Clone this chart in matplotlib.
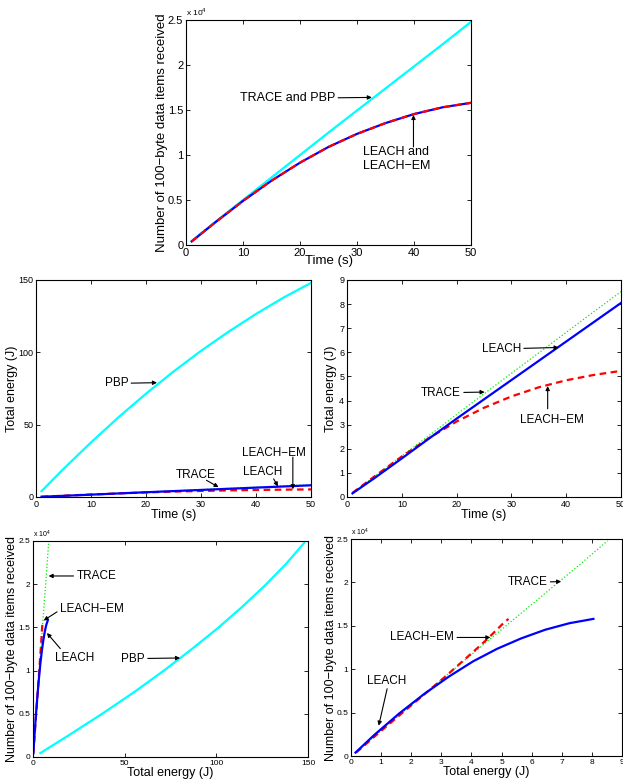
import numpy as np
import matplotlib.pyplot as plt

plt.rcParams['font.family'] = ['Liberation Sans', 'DejaVu Sans']
plt.rcParams['mathtext.fontset'] = 'custom'
plt.rcParams['mathtext.rm'] = 'Liberation Sans'

# simulation time (s)
t = [1, 5, 10, 15, 20, 25, 30, 35, 40, 45, 50]

# data items received (100-byte items)
items_trace_pbp = [450, 2500, 5000, 7500, 10000, 12500, 14950, 17400, 19850, 22300, 24800]
items_leach = [400, 2450, 4900, 7150, 9150, 10900, 12350, 13550, 14550, 15300, 15800]

# total energy (J)
energy_pbp = [4.0, 19.4, 37.7, 55.1, 71.4, 86.7, 101, 114.2, 126.5, 137.8, 148]
energy_trace = [0.17, 0.85, 1.7, 2.55, 3.42, 4.28, 5.13, 5.98, 6.83, 7.68, 8.52]
energy_leach = [0.15, 0.78, 1.6, 2.43, 3.25, 4.05, 4.85, 5.65, 6.45, 7.25, 8.05]
energy_leach_em = [0.17, 0.85, 1.68, 2.45, 3.13, 3.7, 4.17, 4.55, 4.84, 5.06, 5.23]

CYAN, BLUE, RED, GREEN = '#00ffff', '#0000ff', '#ff0000', '#00ee00'
items_ticks = [0, 5000, 10000, 15000, 20000, 25000]
items_labels = ['0', '0.5', '1', '1.5', '2', '2.5']

fig = plt.figure(figsize=(6.23, 7.82), dpi=100)

ARROW = dict(arrowstyle='-|>', color='black', lw=0.8, mutation_scale=6,
             shrinkA=0, shrinkB=0)


def style(ax, tick_fs):
    ax.tick_params(direction='in', top=True, right=True, labelsize=tick_fs,
                   length=3, width=0.6, pad=2)
    for s in ax.spines.values():
        s.set_linewidth(0.8)


def note(ax, text, xy, xytext, fs=8.5, ha='right'):
    ax.annotate(text, xy=xy, xytext=xytext, fontsize=fs, ha=ha, va='center',
                arrowprops=ARROW)


def note_apart(ax, text, textpos, tail, head, fs=8.5):
    # label placed on its own, arrow drawn from tail to head
    ax.text(textpos[0], textpos[1], text, fontsize=fs, ha='left', va='center')
    ax.annotate('', xy=head, xytext=tail, arrowprops=ARROW)


# ---- top: items vs time
ax = fig.add_axes([0.2986, 0.6867, 0.4575, 0.2877])
ax.plot(t, items_trace_pbp, ':', color=GREEN, lw=0.9)
ax.plot(t, items_trace_pbp, '-', color=CYAN, lw=1.6)
ax.plot(t, items_leach, '-', color=BLUE, lw=1.6)
ax.plot(t, items_leach, '--', color=RED, lw=1.6, dashes=(3, 2))
ax.set_xlim(0, 50)
ax.set_ylim(0, 25000)
ax.set_yticks(items_ticks)
ax.set_yticklabels(items_labels)
style(ax, 8)
ax.text(0, 1.008, r'x 10$^4$', transform=ax.transAxes, fontsize=6, va='bottom')
ax.set_xlabel('Time (s)', fontsize=9.5, labelpad=-2)
ax.set_ylabel('Number of 100\u2212byte data items received', fontsize=9.5)
ax.yaxis.set_label_coords(-0.063, 0.5)
note(ax, 'TRACE and PBP', (32.6, 16400), (26.2, 16300), fs=9)
note_apart(ax, 'LEACH and\nLEACH\u2212EM', (31.0, 9600), (39.9, 10900), (39.9, 14450), fs=9)

# ---- middle left: energy vs time
ax = fig.add_axes([0.0578, 0.3645, 0.4414, 0.2775])
ax.plot(t, energy_pbp, '-', color=CYAN, lw=1.6)
ax.plot(t, energy_trace, ':', color=GREEN, lw=0.9)
ax.plot(t, energy_leach_em, '--', color=RED, lw=1.6, dashes=(3, 2))
ax.plot(t, energy_leach, '-', color=BLUE, lw=1.6)
ax.set_xlim(0, 50)
ax.set_ylim(0, 150)
ax.set_yticks([0, 50, 100, 150])
style(ax, 6.5)
ax.set_xlabel('Time (s)', fontsize=9, labelpad=0)
ax.set_ylabel('Total energy (J)', fontsize=9)
ax.yaxis.set_label_coords(-0.065, 0.5)
note(ax, 'PBP', (22.0, 79), (16.8, 78.5))
note_apart(ax, 'TRACE', (25.5, 15), (31.0, 11.5), (33.2, 6.8))
note_apart(ax, 'LEACH', (37.7, 17.3), (43.2, 12.5), (44, 7.3))
note_apart(ax, 'LEACH\u2212EM', (37.4, 30.5), (46.7, 27.5), (46.7, 5.3))

# ---- middle right: energy vs time (zoom)
ax = fig.add_axes([0.557, 0.3645, 0.44, 0.2775])
ax.plot(t, energy_trace, ':', color=GREEN, lw=0.9)
ax.plot(t, energy_leach_em, '--', color=RED, lw=1.6, dashes=(3, 2))
ax.plot(t, energy_leach, '-', color=BLUE, lw=1.6)
ax.set_xlim(0, 50)
ax.set_ylim(0, 9)
ax.set_yticks(range(10))
style(ax, 6.5)
ax.set_xlabel('Time (s)', fontsize=9, labelpad=0)
ax.set_ylabel('Total energy (J)', fontsize=9)
ax.yaxis.set_label_coords(-0.036, 0.5)
note(ax, 'LEACH', (38.6, 6.2), (31.75, 6.14))
note(ax, 'TRACE', (25.1, 4.35), (20.8, 4.32))
note_apart(ax, 'LEACH\u2212EM', (31.6, 3.18), (36.6, 3.66), (36.6, 4.6))

# ---- bottom left: items vs energy
ax = fig.add_axes([0.053, 0.032, 0.4414, 0.2762])
ax.plot(energy_trace, items_trace_pbp, ':', color=GREEN, lw=0.9)
ax.plot(energy_pbp, items_trace_pbp, '-', color=CYAN, lw=1.6)
ax.plot(energy_leach_em, items_leach, '--', color=RED, lw=1.6, dashes=(3, 2))
ax.plot(energy_leach, items_leach, '-', color=BLUE, lw=1.6)
ax.set_xlim(0, 150)
ax.set_ylim(0, 25000)
ax.set_xticks([0, 50, 100, 150])
ax.set_yticks(items_ticks)
ax.set_yticklabels(items_labels)
style(ax, 6)
ax.text(0, 1.003, r'x 10$^4$', transform=ax.transAxes, fontsize=5, va='bottom')
ax.set_xlabel('Total energy (J)', fontsize=9, labelpad=0)
ax.set_ylabel('Number of 100\u2212byte data items received', fontsize=9)
ax.yaxis.set_label_coords(-0.055, 0.5)
note(ax, 'TRACE', (8.5, 20950), (23.6, 20950), ha='left')
note_apart(ax, 'LEACH\u2212EM', (14.9, 17170), (13.1, 16800), (5.8, 15800))
note_apart(ax, 'LEACH', (12.2, 11460), (14.9, 12540), (7.6, 14350))
note(ax, 'PBP', (80.2, 11460), (61.1, 11380))

# ---- bottom right: items vs energy (zoom)
ax = fig.add_axes([0.5634, 0.0332, 0.435, 0.2775])
ax.plot(energy_trace, items_trace_pbp, ':', color=GREEN, lw=0.9)
ax.plot(energy_leach_em, items_leach, '--', color=RED, lw=1.6, dashes=(3, 2))
ax.plot(energy_leach, items_leach, '-', color=BLUE, lw=1.6)
ax.set_xlim(0, 9)
ax.set_ylim(0, 25000)
ax.set_xticks(range(10))
ax.set_yticks(items_ticks)
ax.set_yticklabels(items_labels)
style(ax, 6)
ax.text(0, 1.003, r'x 10$^4$', transform=ax.transAxes, fontsize=5, va='bottom')
ax.set_xlabel('Total energy (J)', fontsize=9, labelpad=0)
ax.set_ylabel('Number of 100\u2212byte data items received', fontsize=9)
ax.yaxis.set_label_coords(-0.052, 0.5)
note(ax, 'TRACE', (6.98, 20100), (6.53, 20000))
note(ax, 'LEACH\u2212EM', (4.63, 13660), (3.43, 13660))
note_apart(ax, 'LEACH', (0.53, 8640), (1.2, 7750), (0.92, 3500))

fig.savefig('out.png', dpi=100)
